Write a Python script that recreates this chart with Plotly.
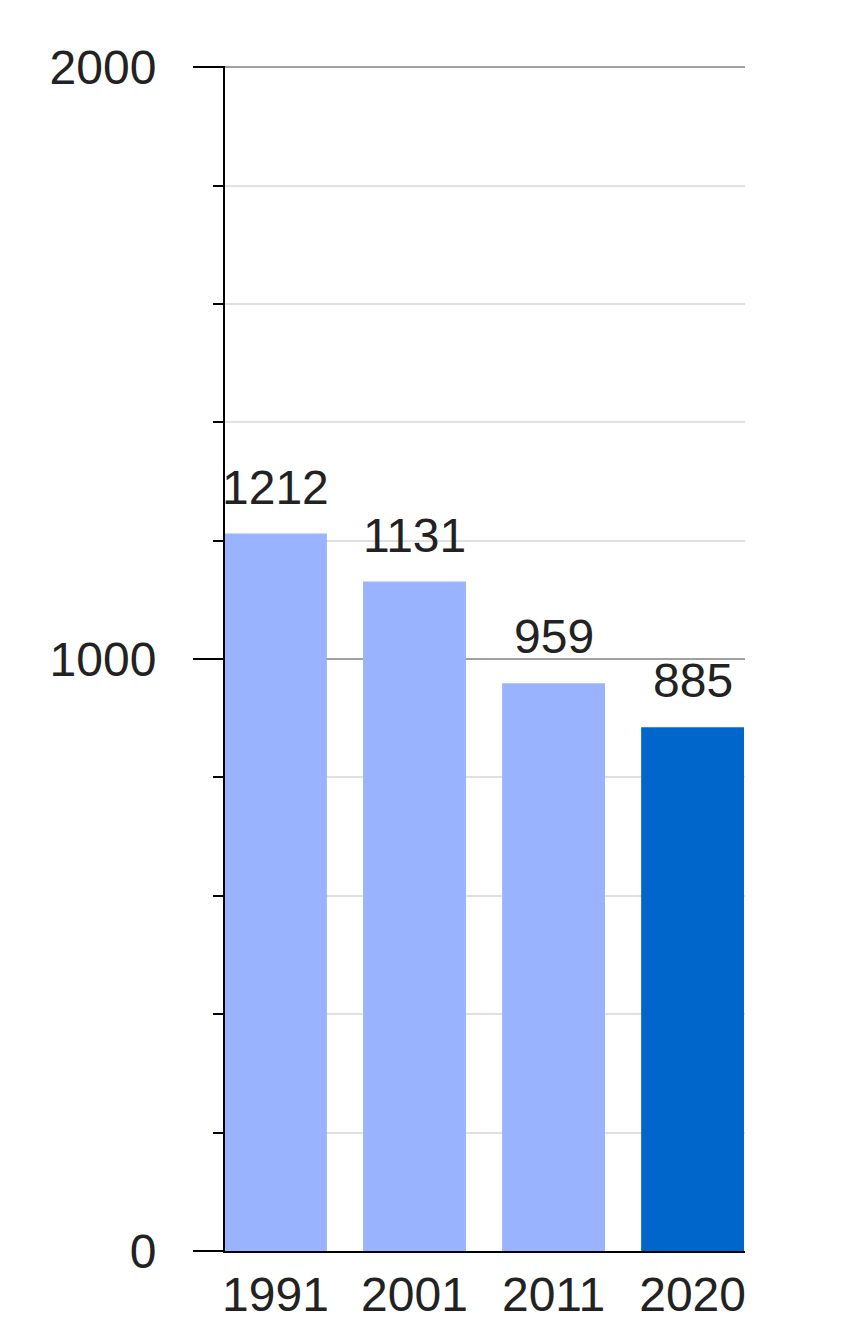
import plotly.graph_objects as go

years = ["1991", "2001", "2011", "2020"]
values = [1212, 1131, 959, 885]
bar_colors = ["#99b3ff", "#99b3ff", "#99b3ff", "#0066cc"]
y_ticks = [0, 1000, 2000]

fig = go.Figure(go.Bar(
    x=years,
    y=values,
    width=0.74,
    marker=dict(color=bar_colors, line=dict(width=0)),
    cliponaxis=False,
))

# value labels above each bar (x given as category index)
for i, v in enumerate(values):
    fig.add_annotation(
        x=i, y=v, text=str(v),
        showarrow=False, yanchor="bottom", yshift=18,
        font=dict(family="Liberation Sans", size=48, color="#222222"),
    )

# page body has an 8px margin, so the figure is sized 8px smaller
fig.update_layout(
    width=842,
    height=1336,
    margin={'l': 217, 'r': 105, 't': 58, 'b': 93},
    plot_bgcolor="white",
    paper_bgcolor="white",
    showlegend=False,
    font=dict(family="Liberation Sans", size=48, color="#222222"),
)

fig.update_xaxes(
    type="category",
    range=[-0.363, 3.377],
    automargin=False,
    showline=True,
    linecolor="black",
    linewidth=2,
    ticks="",
    showgrid=False,
    ticklabelstandoff=0,
)

fig.update_yaxes(
    range=[0, 2002],
    automargin=False,
    tickvals=y_ticks,
    ticktext=[str(t) for t in y_ticks],
    ticks="outside",
    ticklen=30,
    tickwidth=2,
    tickcolor="black",
    ticklabelstandoff=27,
    showline=True,
    linecolor="black",
    linewidth=2,
    showgrid=True,
    gridcolor="#a0a0a0",
    gridwidth=2,
    zeroline=False,
    minor=dict(
        dtick=200,
        ticks="outside",
        ticklen=10,
        tickwidth=2,
        tickcolor="black",
        showgrid=True,
        gridcolor="#e0e0e0",
        gridwidth=1.5,
    ),
)

fig.write_html("out.html")
